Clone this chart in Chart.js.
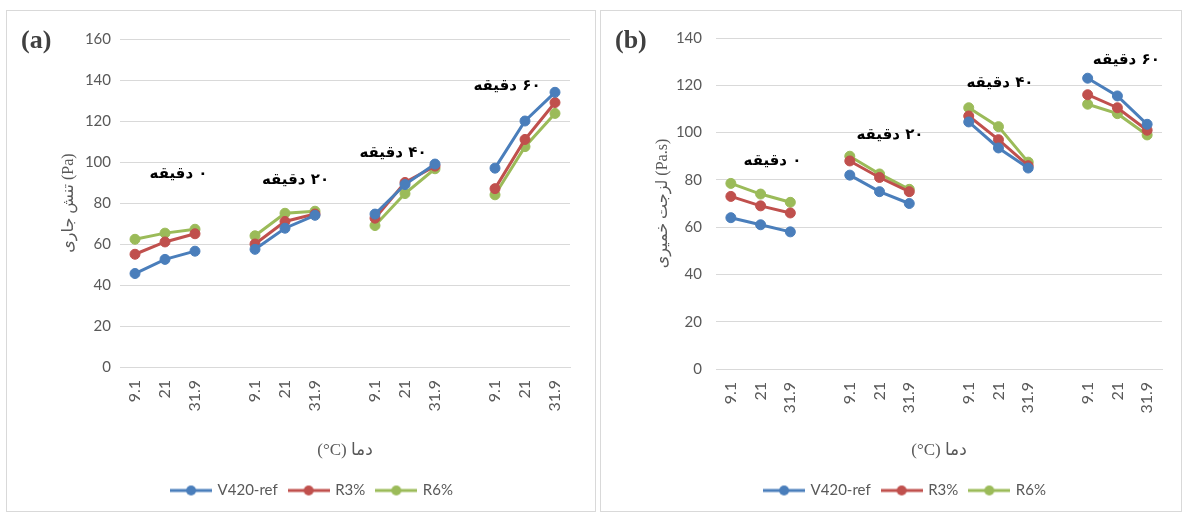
<!DOCTYPE html>
<html>
<head>
<meta charset="utf-8">
<script src="https://cdn.jsdelivr.net/npm/chart.js@4.4.1/dist/chart.umd.min.js"></script>
<style>
    html, body { margin: 0; padding: 0; background: #ffffff; }
    body { width: 1186px; height: 517px; position: relative; overflow: hidden; }
    .panel {
        position: absolute;
        top: 10px;
        height: 502px;
        box-sizing: border-box;
        border: 1px solid #d9d9d9;
        background: #ffffff;
    }
    .panel canvas { display: block; }
    .tag {
        position: absolute;
        top: 14px;
        left: 14px;
        font: bold 26px 'Liberation Serif', serif;
        color: #404040;
    }
</style>
</head>
<body>
<div class="panel" id="panelA" style="left:6px; width:590px;">
    <canvas id="chartA" width="588" height="500"></canvas>
    <div class="tag">(a)</div>
</div>
<div class="panel" id="panelB" style="left:600px; width:582px;">
    <canvas id="chartB" width="580" height="500"></canvas>
    <div class="tag">(b)</div>
</div>
<script>
// Tick labels: three temperatures per mixing time, blank slot between groups
const xLabels = ['9.1', '21', '31.9', '', '9.1', '21', '31.9', '', '9.1', '21', '31.9', '', '9.1', '21', '31.9'];
const seriesNames = ['V420-ref', 'R3%', 'R6%'];
const seriesColors = ['#4a7ebb', '#c0504d', '#9bbb59'];

// (a) yield stress, Pa
const yieldRef = [45.6, 52.5, 56.5, null, 57.4, 67.7, 74, null, 74.6, 89, 99, null, 97, 120, 134];
const yieldR3 = [55, 61, 65, null, 60, 71, 74.6, null, 72.6, 90, 98, null, 87, 111, 129];
const yieldR6 = [62.3, 65.3, 67.2, null, 64, 75, 76, null, 69, 84.6, 96.7, null, 84, 107.5, 123.7];

// (b) plastic viscosity, Pa.s
const viscRef = [64, 61, 58, null, 82, 75, 70, null, 104.5, 93.5, 85, null, 123, 115.5, 103.5];
const viscR3 = [73, 69, 66, null, 88, 81, 75, null, 107, 97, 86, null, 116, 110.5, 101];
const viscR6 = [78.5, 74, 70.5, null, 90, 82.5, 76, null, 110.5, 102.5, 87.5, null, 112, 108, 99];

// Mixing time labels, anchored at (category index, value)
const timeLabels = ['۰ دقیقه', '۲۰ دقیقه', '۴۰ دقیقه', '۶۰ دقیقه'];
const timeAnchorsA = [[1.45, 94], [5.35, 91], [8.6, 104.5], [12.4, 137]];
const timeAnchorsB = [[1.4, 88], [5.35, 99], [9.05, 121], [13.3, 130.5]];

// Legend marker: short line with a dot in the middle
function makeMarker(color) {
    const c = document.createElement('canvas');
    c.width = 42;
    c.height = 14;
    const g = c.getContext('2d');
    g.strokeStyle = color;
    g.lineWidth = 3;
    g.beginPath();
    g.moveTo(0, 7);
    g.lineTo(42, 7);
    g.stroke();
    g.fillStyle = color;
    g.beginPath();
    g.arc(21, 7, 5, 0, Math.PI * 2);
    g.fill();
    return c;
}
const markers = seriesColors.map(makeMarker);

const timeLabelPlugin = {
    id: 'timeLabels',
    afterDatasetsDraw(chart, args, opts) {
        const ctx = chart.ctx;
        const xs = chart.scales.x;
        const ys = chart.scales.y;
        ctx.save();
        ctx.font = "bold 15px 'DejaVu Sans'";
        ctx.fillStyle = '#000000';
        ctx.textAlign = 'center';
        ctx.textBaseline = 'middle';
        ctx.direction = 'rtl';
        opts.anchors.forEach((a, i) => {
            ctx.fillText(timeLabels[i], xs.getPixelForValue(a[0]), ys.getPixelForValue(a[1]));
        });
        ctx.restore();
    }
};

function buildChart(canvasId, values, yMax, yTitle, anchors, geo) {
    const datasets = values.map((v, i) => ({
        label: seriesNames[i],
        data: v,
        borderColor: seriesColors[i],
        backgroundColor: seriesColors[i],
        borderWidth: 3,
        pointRadius: 5,
        pointBorderWidth: 1,
        pointHoverRadius: 5,
        spanGaps: false,
        tension: 0
    }));

    return new Chart(document.getElementById(canvasId), {
        type: 'line',
        data: { labels: xLabels, datasets: datasets },
        plugins: [timeLabelPlugin],
        options: {
            responsive: false,
            animation: false,
            layout: {
                padding: { left: geo.left, right: geo.right, top: geo.top, bottom: geo.bottom }
            },
            plugins: {
                timeLabels: { anchors: anchors },
                tooltip: { enabled: false },
                legend: {
                    position: 'bottom',
                    labels: {
                        usePointStyle: true,
                        pointStyleWidth: 38,
                        boxHeight: 14,
                        padding: 12,
                        color: '#595959',
                        font: { family: 'Lato', size: 15 },
                        generateLabels(chart) {
                            const items = Chart.defaults.plugins.legend.labels.generateLabels(chart);
                            items.forEach(it => { it.pointStyle = markers[it.datasetIndex]; });
                            return items;
                        }
                    }
                }
            },
            scales: {
                x: {
                    offset: true,
                    afterFit(scale) { scale.height = geo.xHeight; },
                    grid: { display: false },
                    border: { color: '#d9d9d9' },
                    ticks: {
                        autoSkip: false,
                        maxRotation: 90,
                        minRotation: 90,
                        padding: 5,
                        color: '#595959',
                        font: { family: 'Lato', size: 16 }
                    },
                    title: {
                        display: true,
                        text: '(°C) دما',
                        color: '#595959',
                        padding: { top: 4, bottom: 10 },
                        font: { family: "'Liberation Serif', 'DejaVu Sans'", size: 17 }
                    }
                },
                y: {
                    min: 0,
                    max: yMax,
                    afterFit(scale) { scale.width = geo.yWidth; },
                    grid: { color: '#d9d9d9', drawTicks: false },
                    border: { display: false },
                    ticks: {
                        stepSize: 20,
                        padding: geo.tickPad,
                        color: '#595959',
                        font: { family: 'Lato', size: 15 }
                    },
                    title: {
                        display: true,
                        text: yTitle,
                        color: '#595959',
                        padding: 4,
                        font: { family: "'Liberation Serif', 'DejaVu Sans'", size: 16 }
                    }
                }
            }
        }
    });
}

buildChart('chartA', [yieldRef, yieldR3, yieldR6], 160, 'تنش جاری (Pa)', timeAnchorsA,
    { left: 48, right: 25, top: 28, bottom: 3, xHeight: 104, yWidth: 65, tickPad: 9 });
buildChart('chartB', [viscRef, viscR3, viscR6], 140, 'لزجت خمیری (Pa.s)', timeAnchorsB,
    { left: 48, right: 19, top: 27, bottom: 3, xHeight: 102, yWidth: 67, tickPad: 14 });
</script>
</body>
</html>
